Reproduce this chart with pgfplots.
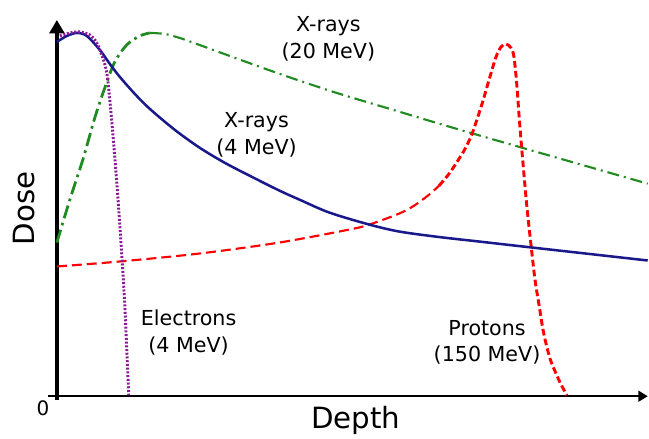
\documentclass[border=0pt]{standalone}
\usepackage{pgfplots}
\pgfplotsset{compat=1.18}
\usepackage{fontspec}
\setmainfont{DejaVu Sans}
\usetikzlibrary{arrows.meta}

\definecolor{xlow}{rgb}{0.10,0.10,0.55}
\definecolor{xhigh}{rgb}{0.13,0.54,0.13}
\definecolor{proton}{rgb}{1,0,0}
\definecolor{electron}{rgb}{0.55,0.10,0.60}

% depth–dose samples, y = relative dose
\pgfplotstableread{
x y
57 189
70 232
83 272
95 314
105 344
115 370
127 387
140 396
150 399
}\xhighrise
\pgfplotstableread{
x y
150 399
165 398
180 394
197 388
230 376
283 357
337 339
397 321
447 306
523 284
649 248
}\xhighfall
\pgfplotstableread{
x y
57 165
120 170
200 178
280 189
350 202
370 207
400 218
415 226
430 237
440 246
}\protonentry
\pgfplotstableread{
x y
440 246
450 258
460 273
465 281
473 298
483 328
490 352
497 375
502 385
507 388
512 384
515 375
518 345
520 317
522 292
525 257
528 224
532 187
536 152
540 127
544 102
548 84
552 70
557 58
562 47
568 36
}\protonpeak
\pgfplotstableread{
x y
57 390
67 396
77 399
87 396
100 382
110 368
120 355
135 338
150 323
175 302
200 284
225 269
250 256
280 241
300 232
330 219
370 207
400 200
440 194.5
480 190
533 184
649 171
}\xlowdata
\pgfplotstableread{
x y
60 396
70 399
80 400
90 397
97 389
103 374
107 359
110 332
113 299
116 262
119 222
122 177
125 127
127 82
129 36
}\electrondata

\begin{document}
\begin{tikzpicture}
\begin{axis}[
  x=0.75pt, y=0.75pt,
  xmin=57, xmax=649, ymin=35, ymax=412,
  axis lines=left,
  ticks=none,
  clip=false,
  x axis line style={line width=1.9pt, shorten <=-6.75pt, -{Triangle[width=8pt,length=7pt]}},
  y axis line style={line width=2.8pt, shorten <=-3pt, -{Triangle[width=11pt,length=10pt]}},
]
% page extent
\path (axis cs:0,0) rectangle (axis cs:649,432);

% X-rays, 20 MeV (dash-dot)
\addplot[xhigh, line width=2.1pt, smooth, tension=0.5,
  dash pattern=on 10pt off 3.5pt on 2pt off 3.5pt] table {\xhighrise};
\addplot[xhigh, line width=1.6pt, smooth, tension=0.5,
  dash pattern=on 9pt off 3.75pt on 1.5pt off 3.75pt] table {\xhighfall};

% Protons, 150 MeV (dashed)
\addplot[proton, line width=1.6pt, smooth, tension=0.5,
  dash pattern=on 7.5pt off 3.75pt] table {\protonentry};
\addplot[proton, line width=2.2pt, smooth, tension=0.5,
  dash pattern=on 5pt off 2.5pt] table {\protonpeak};

% X-rays, 4 MeV (solid)
\addplot[xlow, line width=1.9pt, smooth, tension=0.5] table {\xlowdata};

% Electrons, 4 MeV (dotted)
\addplot[electron, line width=2.2pt, smooth, tension=0.5,
  dash pattern=on 1.5pt off 1.3pt] table {\electrondata};

% labels
\begin{scope}[every node/.style={font=\fontsize{15.5}{20}\selectfont, align=center, text=black}]
\node at (axis cs:329,393) {X-rays\\(20 MeV)};
\node at (axis cs:257,297) {X-rays\\(4 MeV)};
\node at (axis cs:189,99) {Electrons\\(4 MeV)};
\node at (axis cs:488,89) {Protons\\(150 MeV)};
\end{scope}
\node[font=\fontsize{15}{18}\selectfont] at (axis cs:43,23) {0};
\node[font=\fontsize{22}{26}\selectfont, rotate=90, anchor=base] at (axis cs:35,223) {Dose};
\node[font=\fontsize{22}{26}\selectfont, anchor=base] at (axis cs:356.5,3) {Depth};
\end{axis}
\end{tikzpicture}
\end{document}
